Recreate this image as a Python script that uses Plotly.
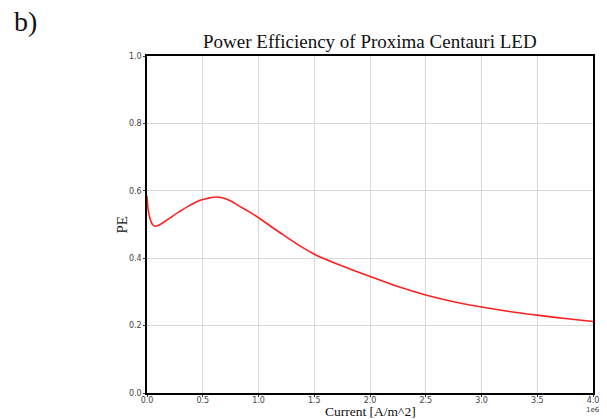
import plotly.graph_objects as go

# Current density [A/m^2] and power efficiency samples of the LED
current = [0.0, 0.01e6, 0.025e6, 0.045e6, 0.07e6, 0.10e6, 0.16e6, 0.23e6, 0.29e6,
           0.38e6, 0.47e6, 0.55e6, 0.60e6, 0.65e6, 0.70e6, 0.76e6, 0.82e6, 0.91e6,
           1.0e6, 1.1e6, 1.2e6, 1.35e6, 1.5e6, 1.75e6, 2.0e6, 2.25e6, 2.5e6,
           2.75e6, 3.0e6, 3.25e6, 3.5e6, 3.75e6, 4.0e6]
pe = [0.585, 0.545, 0.520, 0.502, 0.495, 0.497, 0.509, 0.525, 0.538,
      0.556, 0.571, 0.578, 0.581, 0.581, 0.577, 0.568, 0.556, 0.539,
      0.520, 0.497, 0.474, 0.441, 0.412, 0.377, 0.346, 0.316, 0.291,
      0.271, 0.255, 0.242, 0.231, 0.221, 0.212]

x_tickvals = [0, 0.5e6, 1.0e6, 1.5e6, 2.0e6, 2.5e6, 3.0e6, 3.5e6, 4.0e6]
x_ticktext = ["0.0", "0.5", "1.0", "1.5", "2.0", "2.5", "3.0", "3.5", "4.0"]
y_tickvals = [0.0, 0.2, 0.4, 0.6, 0.8, 1.0]
y_ticktext = ["0.0", "0.2", "0.4", "0.6", "0.8", "1.0"]

serif = "Liberation Serif, Times New Roman, serif"
sans = "DejaVu Sans, sans-serif"

fig = go.Figure()
fig.add_trace(go.Scatter(
    x=current, y=pe, mode="lines",
    line=dict(color="#ff2020", width=1.6, shape="spline", smoothing=1.0),
    hoverinfo="skip", showlegend=False,
))

axis_common = dict(
    showline=True, linecolor="black", linewidth=1.5, mirror=True,
    showgrid=True, gridcolor="#d9d9d9", gridwidth=1,
    ticks="outside", ticklen=2, tickwidth=1, tickcolor="#333333",
    tickfont=dict(family=sans, size=8, color="#444444"),
    zeroline=False,
)

fig.update_xaxes(range=[0, 4.0e6], tickvals=x_tickvals, ticktext=x_ticktext,
                 ticklabelstandoff=-3, **axis_common)
fig.update_yaxes(range=[0, 1.0], tickvals=y_tickvals, ticktext=y_ticktext, **axis_common)

fig.update_layout(
    width=607, height=419,
    margin=dict(l=147, r=8, t=56, b=26),
    paper_bgcolor="white", plot_bgcolor="white",
    annotations=[
        dict(text="Power Efficiency of Proxima Centauri LED", xref="paper", yref="paper",
             x=0.5, y=1.0, yshift=2, xanchor="center", yanchor="bottom", showarrow=False,
             font=dict(family=serif, size=19, color="#111111")),
        dict(text="b)", xref="paper", yref="paper", x=-147 / 452, y=1.0, xshift=10,
             yshift=17, xanchor="left", yanchor="bottom", showarrow=False,
             font=dict(family=serif, size=28, color="#111111")),
        dict(text="PE", xref="paper", yref="paper", x=0, y=0.5, xshift=-26,
             xanchor="center", yanchor="middle", textangle=-90, showarrow=False,
             font=dict(family=serif, size=15, color="#111111")),
        dict(text="Current [A/m^2]", xref="paper", yref="paper", x=0.5, y=0, yshift=-27,
             xanchor="center", yanchor="bottom", showarrow=False, borderpad=0,
             font=dict(family=serif, size=13.5, color="#111111")),
        dict(text="1e6", xref="paper", yref="paper", x=1.0, y=0, yshift=-11,
             xanchor="center", yanchor="top", showarrow=False,
             font=dict(family=sans, size=7, color="#444444")),
    ],
)

fig.write_html("out.html")
